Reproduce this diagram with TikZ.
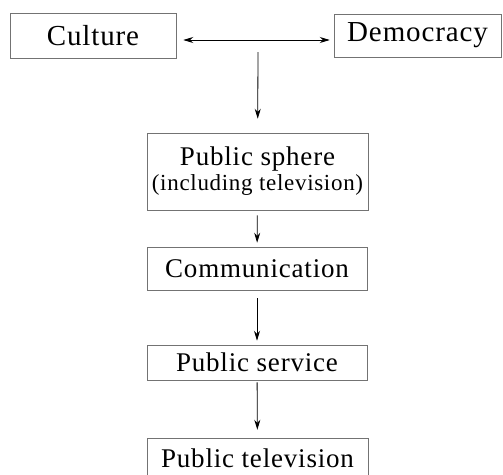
\documentclass[tikz,border=0pt]{standalone}
\usepackage{fontspec}
\setmainfont[LetterSpace=3]{Liberation Serif}
\usetikzlibrary{arrows.meta}
\tikzset{
	caja/.style={draw=black!55, line width=0.5pt, inner sep=0pt, align=center, font=\fontsize{27}{29}\selectfont},
	flecha/.style={-{Stealth[length=10pt,width=6pt]}, line width=0.8pt, shorten <=5pt, shorten >=4pt}
}
\begin{document}
\begin{tikzpicture}[x=1pt,y=-1pt]
	\useasboundingbox (0,0) rectangle (503,474);
	\clip (0,0) rectangle (503,474);
	% fila de arriba
	\node[caja, minimum width=166pt, minimum height=45pt, font=\fontsize{29}{31}\selectfont] (cultura) at (93,36) {Culture};
	\node[caja, minimum width=167pt, minimum height=43pt, font=\fontsize{29}{31}\selectfont] (democracia) at (417.5,35.5) {Democracy};
	\draw[flecha, {Stealth[length=10pt,width=6pt]}-{Stealth[length=10pt,width=6pt]}, shorten <=7pt, shorten >=4pt] (cultura.east |- 0,40) -- (democracia.west |- 0,40);
	\coordinate (union) at (258,52);
	%\node[caja] (centro) {Centro};

	% columna
	\node[caja, minimum width=221pt, minimum height=77pt] (esfera) at (257.5,171.5) {Public sphere\\[-4pt]{\fontsize{23}{25}\selectfont (including television)}};
	\node[caja, minimum width=220pt, minimum height=43pt] (comunicacion) at (257,268.5) {Communication};
	\node[caja, minimum width=220pt, minimum height=35pt] (servicio) at (257,362.5) {Public service};
	\node[caja, minimum width=221pt, minimum height=40pt] (television) at (257.5,458) {Public television};

	\draw[flecha, shorten <=0pt, shorten >=14pt] (union) -- (esfera);
	\draw[flecha] (esfera) -- (comunicacion);
	\draw[flecha, shorten <=8pt] (comunicacion) -- (servicio);
	\draw[flecha, shorten <=2pt, shorten >=8pt] (servicio) -- (television);
\end{tikzpicture}
\end{document}
